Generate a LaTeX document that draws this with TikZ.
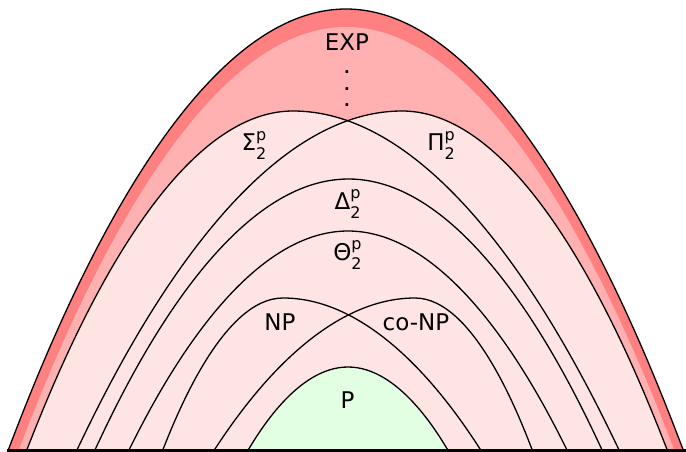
\documentclass[tikz,border=0pt]{standalone}
\usepackage{fontspec}
\setmainfont{DejaVu Sans}
\definecolor{expdk}{RGB}{255,128,128}
\definecolor{explt}{RGB}{255,176,176}
\definecolor{phlt}{RGB}{255,228,228}
\definecolor{plt}{RGB}{227,255,227}
\newcommand{\lvltwo}[1]{#1\rlap{\raisebox{10.7pt}{\fontsize{16}{16}\selectfont p}}\raisebox{-9pt}{\fontsize{16}{16}\selectfont 2}}
\tikzset{
  %% class border
  bnd/.style={draw=black,line width=1.3pt},
  %% class name
  lbl/.style={font=\fontsize{23}{23}\selectfont,inner sep=0pt,anchor=base,align=center},
}

\begin{document}
\begin{tikzpicture}[x=1pt,y=-1pt]
  \useasboundingbox (0,0) rectangle (686,452);
  %% EXP with its outer band
  \filldraw[bnd,fill=expdk] (7.5,452) parabola bend (346,9) (684,452) -- cycle;
  \fill[explt] (18,452) parabola bend (346,27) (675,452) -- cycle;
  %% second level of the hierarchy
  \fill[phlt] (26,452) parabola bend (293,111) (620,452) -- cycle;
  \fill[phlt] (76,452) parabola bend (402,111) (668,452) -- cycle;
  \draw[bnd] (26,452) parabola bend (293,111) (620,452);
  \draw[bnd] (76,452) parabola bend (402,111) (668,452);
  \draw[bnd] (94,452) parabola bend (348.5,179) (603,452);
  \draw[bnd] (128,452) parabola bend (348,231) (568,452);
  %% NP and co-NP
  \draw[bnd] (162,452) parabola bend (283,298) (482,452);
  \draw[bnd] (213,452) parabola bend (415,298) (533,452);
  %% P
  \filldraw[bnd,fill=plt] (247,452) parabola bend (348,367) (449,452) -- cycle;
  %% base line
  \draw[line width=2.8pt] (7,450.6) -- (686,450.6);

  \node[lbl] (exp) at (347,51) {EXP};
  \node[lbl,anchor=south,font=\fontsize{15}{16.5}\selectfont\bfseries] (dots) at (347,107) {.\\.\\.};
  \node[lbl] (sig) at (254,150.7) {\lvltwo{Σ}};
  \node[lbl] (pi)  at (441,150.7) {\lvltwo{Π}};
  \node[lbl] (del) at (347.5,209) {\lvltwo{Δ}};
  \node[lbl] (the) at (347.5,260.5) {\lvltwo{Θ}};
  \node[lbl] (np)   at (280,330) {NP};
  \node[lbl] (conp) at (416,330) {co-NP};
  \node[lbl] (p)    at (347.5,408) {P};
\end{tikzpicture}
\end{document}
